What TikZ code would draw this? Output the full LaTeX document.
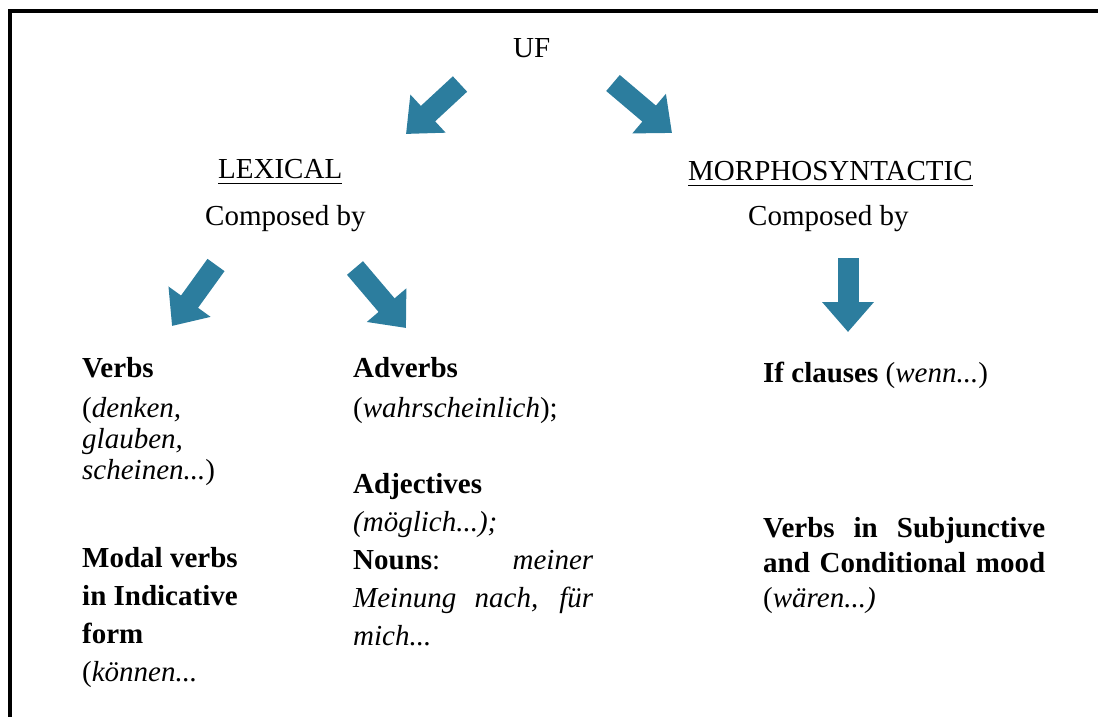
\documentclass[tikz,border=0pt]{standalone}
\usepackage{fontspec}
\setmainfont{Liberation Serif}
\usetikzlibrary{positioning,arrows.meta}
\definecolor{arrowblue}{RGB}{44,125,158}
\hyphenpenalty=10000
\exhyphenpenalty=10000

\begin{document}
\begin{tikzpicture}[x=1pt,y=-1pt,
    txt/.style={anchor=base west,inner sep=0pt,font=\fontsize{29}{38}\selectfont},
    col/.style={txt,text width=#1,align=justify},
    bigarrow/.style={draw=arrowblue,line width=21pt,-{Triangle[width=50pt,length=30pt]}}]
    \useasboundingbox (0,0) rectangle (1098,717);
    \draw[line width=4pt] (9.5,717) -- (9.5,11) -- (1098,11);
    % Rubriker
    \node (uf) [txt] at (513,58) {UF};
    \node (lex) [txt] at (218,178) {LEXICAL};
    \node (lexcomp) [txt] at (205,225) {Composed by};
    \node (morph) [txt] at (688,180) {MORPHOSYNTACTIC};
    \node (morphcomp) [txt] at (748,225) {Composed by};
    \draw[line width=1pt] ([yshift=-5pt]lex.base west) -- ([yshift=-5pt]lex.base east);
    \draw[line width=1pt] ([yshift=-5pt]morph.base west) -- ([yshift=-5pt]morph.base east);
    % Kolumner
    \node (verbs) [col=160pt,font=\fontsize{29}{31}\selectfont] at (82,377) {\textbf{Verbs}\\[9pt](\textit{denken,}\\\textit{glauben,}\\\textit{scheinen...})};
    \node (modal) [col=160pt] at (82,567) {\textbf{Modal verbs}\\\textbf{in Indicative}\\\textbf{form}\\(\textit{können...}};
    \node (adv) [col=240pt,font=\fontsize{29}{40}\selectfont] at (353,377) {\textbf{Adverbs}\\(\textit{wahrscheinlich});};
    \node (adj) [col=240pt] at (353,493) {\textbf{Adjectives}\\\textit{(möglich...);}\\\textbf{Nouns}: \textit{meiner Meinung nach, für mich...}};
    \node (ifcl) [txt] at (763,382) {\textbf{If clauses} (\textit{wenn...})};
    \node (subj) [col=282pt,font=\fontsize{29}{35}\selectfont] at (763,537) {\textbf{Verbs in Subjunctive and Conditional mood} (\textit{wären...)}};
    % Pilar
    \coordinate (lexfrom) at (460,84);
    \coordinate (lexto) at (406,134);
    \coordinate (morfrom) at (613,83);
    \coordinate (morto) at (672,133);
    \coordinate (verbfrom) at (216,265);
    \coordinate (verbto) at (172,326);
    \coordinate (advfrom) at (355,268);
    \coordinate (advto) at (406,328);
    \coordinate (iffrom) at (848,258);
    \coordinate (ifto) at (848,332);
    \draw [bigarrow] (lexfrom) -- (lexto);
    \draw [bigarrow] (morfrom) -- (morto);
    \draw [bigarrow] (verbfrom) -- (verbto);
    \draw [bigarrow] (advfrom) -- (advto);
    \draw [bigarrow] (iffrom) -- (ifto);
\end{tikzpicture}
\end{document}
